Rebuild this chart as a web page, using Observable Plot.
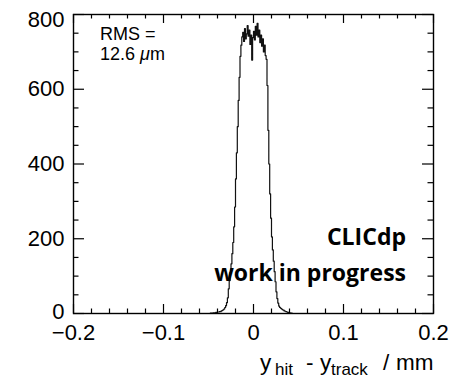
<!DOCTYPE html>
<html><head><meta charset="utf-8">
<script src="https://cdn.jsdelivr.net/npm/d3@7"></script>
<script src="https://cdn.jsdelivr.net/npm/@observablehq/plot@0.6"></script>
<style>body{margin:0;background:#fff} #chart{position:absolute;left:0;top:0}</style>
</head><body><div id="chart"></div>
<script>
// histogram of y_hit - y_track (mm), bins of 1 µm starting at -0.05 mm
const binStart = -0.05;
const binWidth = 0.001;
const counts = [
  0, 0, 1, 1, 1, 2, 2, 2, 3, 3,
  4, 4, 5, 5, 7, 8, 10, 12, 16, 21,
  29, 42, 66, 88, 110, 133, 160, 190, 232, 285,
  360, 430, 500, 570, 632, 688, 718, 740, 752, 728,
  762, 735, 748, 770, 742, 758, 720, 745, 678, 738,
  755, 732, 768, 745, 776, 740, 758, 725, 745, 715,
  735, 700, 718, 690, 680, 610, 490, 400, 320, 255,
  205, 170, 140, 112, 85, 58, 40, 28, 20, 16,
  14, 12, 10, 9, 7, 6, 5, 4, 3, 3,
  2, 1, 1, 0, 0, 0, 0, 0, 0, 0
];
const xDomain = [-0.2, 0.2];
const yDomain = [0, 800];
const xMajorTicks = [-0.2, -0.1, 0, 0.1, 0.2];
const xMinorTicks = [-0.18, -0.16, -0.14, -0.12, -0.08, -0.06, -0.04, -0.02, 0.02, 0.04, 0.06, 0.08, 0.12, 0.14, 0.16, 0.18];
const yMajorTicks = [0, 200, 400, 600, 800];
const yMinorTicks = [50, 100, 150, 250, 300, 350, 450, 500, 550, 650, 700, 750];
const rmsLines = ["RMS =", "12.6 "];
const rmsUnit = ["μ", "m"];
const xTitleParts = [["y", false, 260], ["hit", true, 275], ["-", false, 306], ["y", false, 320], ["track", true, 331], ["/", false, 383], ["mm", false, 396]];
const stampLines = ["CLICdp", "work in progress"];

const W = 459, H = 381;
const mL = 73, mR = 26, mT = 14, mB = 68;
const pw = W - mL - mR, ph = H - mT - mB;

const pts = [{x: xDomain[0], y: 0}];
counts.forEach((c, i) => pts.push({x: binStart + i * binWidth, y: c}));
pts.push({x: binStart + counts.length * binWidth, y: 0});
pts.push({x: xDomain[1], y: 0});

const font = "Liberation Sans, Arial, Helvetica, sans-serif";
const fmt = d3.format("");

const svg = Plot.plot({
  width: W, height: H,
  marginLeft: mL, marginRight: mR, marginTop: mT, marginBottom: mB,
  style: {fontFamily: font, background: "#fff", color: "#000"},
  x: {domain: xDomain, axis: null},
  y: {domain: yDomain, axis: null},
  marks: [
    Plot.line(pts, {x: "x", y: "y", curve: "step-after", stroke: "#111", strokeWidth: 1.2}),
    Plot.tickX(xMajorTicks, {x: d => d, insetTop: ph - 9, stroke: "#000", strokeWidth: 1.2}),
    Plot.tickX(xMinorTicks, {x: d => d, insetTop: ph - 4.5, stroke: "#000", strokeWidth: 1.2}),
    Plot.tickX(xMajorTicks, {x: d => d, insetBottom: ph - 9, stroke: "#000", strokeWidth: 1.2}),
    Plot.tickX(xMinorTicks, {x: d => d, insetBottom: ph - 4.5, stroke: "#000", strokeWidth: 1.2}),
    Plot.tickY(yMajorTicks, {y: d => d, insetRight: pw - 11, stroke: "#000", strokeWidth: 1.2}),
    Plot.tickY(yMinorTicks, {y: d => d, insetRight: pw - 5.5, stroke: "#000", strokeWidth: 1.2}),
    Plot.tickY(yMajorTicks, {y: d => d, insetLeft: pw - 11, stroke: "#000", strokeWidth: 1.2}),
    Plot.tickY(yMinorTicks, {y: d => d, insetLeft: pw - 5.5, stroke: "#000", strokeWidth: 1.2}),
    Plot.frame({stroke: "#000", strokeWidth: 1.4}),
    Plot.axisX(xMajorTicks, {tickSize: 0, tickPadding: 11, fontSize: 22, tickFormat: fmt, fill: "#000", label: null}),
    Plot.axisY([200, 400, 600], {tickSize: 0, tickPadding: 9, fontSize: 22, tickFormat: fmt, fill: "#000", label: null}),
    Plot.axisY([0], {tickSize: 0, tickPadding: 9, fontSize: 22, tickFormat: fmt, dy: -2, fill: "#000", label: null}),
    Plot.axisY([800], {tickSize: 0, tickPadding: 9, fontSize: 22, tickFormat: fmt, dy: 5, fill: "#000", label: null})
  ]
});

document.getElementById("chart").appendChild(svg);
const s = d3.select(svg);

// CLICdp stamp
const st = s.append("g").attr("font-family", "Open Sans, Noto Sans, sans-serif").attr("font-weight", "bold")
  .attr("font-size", 23).attr("fill", "#000").attr("text-anchor", "end");
st.append("text").attr("x", 406).attr("y", 245).text(stampLines[0]);
st.append("text").attr("x", 406).attr("y", 281).text(stampLines[1]);

// RMS box
const rms = s.append("g").attr("font-family", font).attr("font-size", 18).attr("fill", "#000").attr("text-anchor", "start");
rms.append("text").attr("x", 100).attr("y", 40).text(rmsLines[0]);
const t2 = rms.append("text").attr("x", 100).attr("y", 60);
t2.append("tspan").text(rmsLines[1]);
t2.append("tspan").attr("font-style", "italic").text(rmsUnit[0]);
t2.append("tspan").text(rmsUnit[1]);

// x-axis title
const tt = s.append("text").attr("font-family", font).attr("font-size", 22.5).attr("fill", "#000").attr("text-anchor", "start");
xTitleParts.forEach(([txt, sub, x]) => {
  tt.append("tspan").attr("x", x).attr("y", sub ? 375 : 370)
    .attr("font-size", sub ? 17 : 22.5).text(txt);
});
</script></body></html>
